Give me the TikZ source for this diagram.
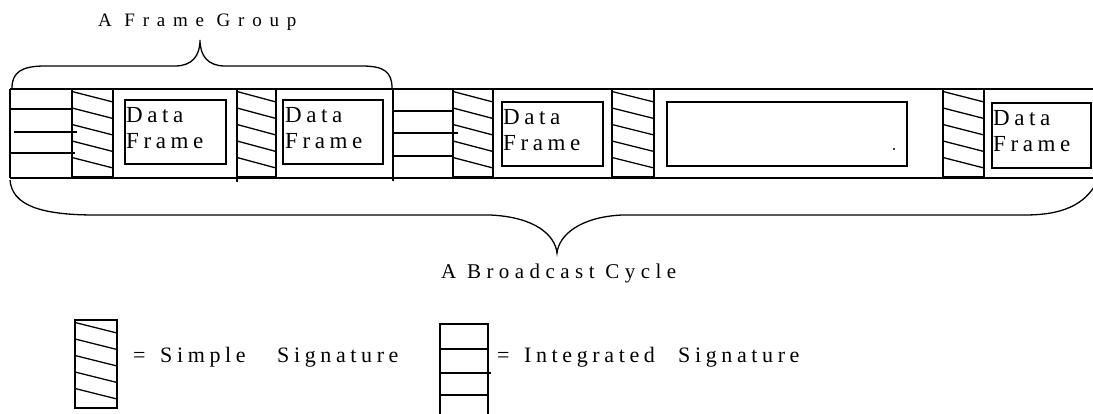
\documentclass[tikz,border=0pt]{standalone}
\usepackage{fontspec}
\setmainfont{Liberation Serif}
\newfontfamily\dataf[LetterSpace=20]{Liberation Serif}
\newfontfamily\legf[LetterSpace=21]{Liberation Serif}
\newfontfamily\grpf[LetterSpace=41]{Liberation Serif}
\newfontfamily\cycf[LetterSpace=26]{Liberation Serif}
\newcommand\hsig[3]{%
  \draw[ln] (#1,#3) rectangle (#2,#3+88);
  \foreach \k in {0,...,4}{\draw[ln] (#1,#3+2.5+16.5*\k) -- (#2,#3+13+16.5*\k);}%
}
\tikzset{
  ln/.style={line width=1.3pt, black},
  lbl/.style={inner sep=0pt, anchor=base west},
  dfbox/.style={ln},
}
\begin{document}
\begin{tikzpicture}[x=1pt,y=-1pt]
\useasboundingbox (0,0) rectangle (1093,414);
% strip
\draw[ln] (10,89) -- (1093,89);
\draw[ln] (10,178) -- (1093,178);
\draw[ln] (10,89) -- (10,178);
% integrated sig 1
\draw[ln] (72,89) -- (72,178);
\draw[ln] (10,109) -- (72,109);
\draw[ln] (14,132) -- (77,132);
\draw[ln] (10,153) -- (75,153);
% simple sigs
\hsig{72}{113}{89}
\hsig{237}{276}{89}
\draw[ln] (237,178) -- (237,182);
\hsig{453}{493}{89}
\draw[line width=2.2pt] (453,177) -- (493,177);
\hsig{612}{654}{89}
\draw[line width=2.2pt] (612,89) -- (612,178) (654,89) -- (654,178);
\hsig{943}{984}{89}
% integrated sig 2
\draw[ln] (393,89) -- (393,181);
\draw[ln] (392,111) -- (453,111);
\draw[ln] (392,133) -- (458,133);
\draw[ln] (392,156) -- (453,156);
% data frames
\draw[dfbox] (125,100) rectangle (226,164);
\node[lbl] (d1a) at (126,123) {\fontsize{23}{23}\dataf Data};
\node[lbl] (d1b) at (126,149) {\fontsize{23}{23}\dataf Frame};
\draw[dfbox] (283,100) rectangle (383,164);
\node[lbl] (d2a) at (285,123) {\fontsize{23}{23}\dataf Data};
\node[lbl] (d2b) at (285,149) {\fontsize{23}{23}\dataf Frame};
\draw[dfbox] (502,102) rectangle (603,166);
\node[lbl] (d3a) at (503,125) {\fontsize{23}{23}\dataf Data};
\node[lbl] (d3b) at (503,151) {\fontsize{23}{23}\dataf Frame};
\draw[dfbox] (667,102) rectangle (907,166);
\fill (894,149) circle (1.1);
\draw[dfbox] (992,103) rectangle (1091,168);
\node[lbl] (d5a) at (993,126) {\fontsize{23}{23}\dataf Data};
\node[lbl] (d5b) at (993,152) {\fontsize{23}{23}\dataf Frame};
% top brace
\draw[ln] (12,88) .. controls (12,72) and (22,66) .. (45,66) -- (175,66)
  .. controls (192,66) and (200,56) .. (200,40)
  .. controls (200,56) and (208,66) .. (225,66) -- (362,66)
  .. controls (384,66) and (392,72) .. (392,88);
\node[lbl] (grp) at (98,27) {\fontsize{19}{19}\grpf A Frame Group};
% bottom brace
\draw[ln] (10,180) .. controls (12,205) and (40,215) .. (95,215) -- (490,215)
  .. controls (535,217) and (555,235) .. (557,253)
  .. controls (559,235) and (580,217) .. (622,215) -- (1025,215)
  .. controls (1070,215) and (1088,200) .. (1098,180);
\node[lbl] (cyc) at (441,279) {\fontsize{21}{21}\cycf A Broadcast Cycle};
% legend
\hsig{75}{117}{320}
\node[lbl] (eq1) at (133,362) {\fontsize{22}{22}\legf =};
\node[lbl] (sim) at (160,362) {\fontsize{22}{22}\legf Simple};
\node[lbl] (sg1) at (277,362) {\fontsize{22}{22}\legf Signature};
\draw[ln] (440,420) -- (440,324) -- (488,324) -- (488,420);
\draw[ln] (440,349) -- (488,349);
\draw[ln] (440,373) -- (491,373);
\draw[ln] (440,395) -- (488,395);
\node[lbl] (eq2) at (497,362) {\fontsize{22}{22}\legf =};
\node[lbl] (int) at (524,362) {\fontsize{22}{22}\legf Integrated};
\node[lbl] (sg2) at (678,362) {\fontsize{22}{22}\legf Signature};
\end{tikzpicture}
\end{document}
